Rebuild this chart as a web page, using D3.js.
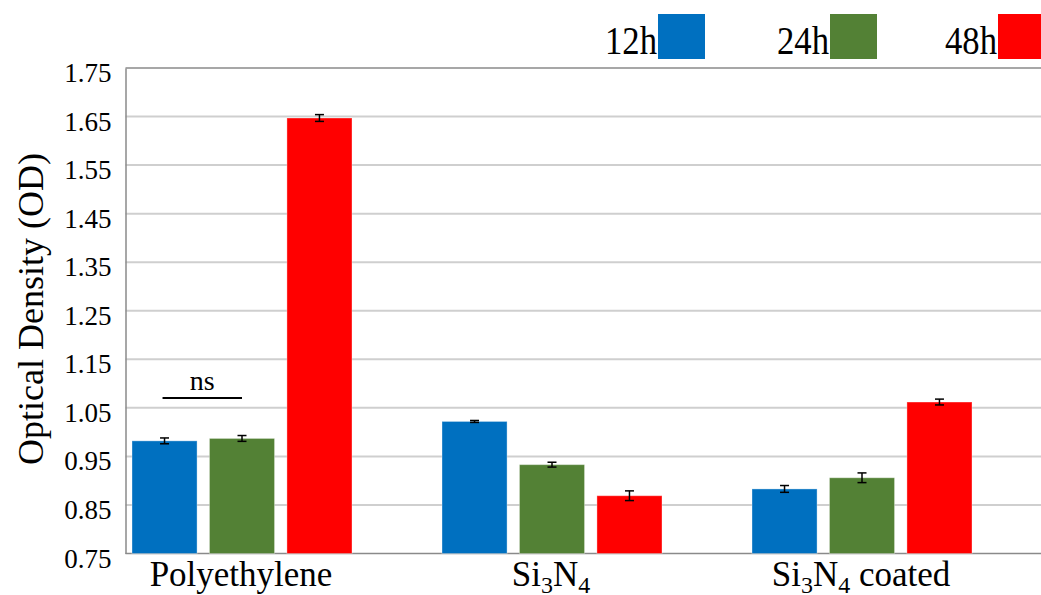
<!DOCTYPE html>
<html>
<head>
<meta charset="utf-8">
<script src="https://cdn.jsdelivr.net/npm/d3@7/dist/d3.min.js"></script>
<style>
  html, body { margin: 0; padding: 0; background: #fff; }
  svg { display: block; }
  svg text { font-family: 'Liberation Serif', 'Times New Roman', 'DejaVu Serif', serif; }
</style>
</head>
<body>
<svg id="chart" width="1041" height="595"></svg>
<script>
// Materials tested
const categories = ["Polyethylene", "Si3N4", "Si3N4 coated"];
// Incubation times
const series = ["12h", "24h", "48h"];
const colors = ["#0070C0", "#538135", "#FF0000"];
// Mean optical density per material, one array per time point
const od12 = [0.982, 1.022, 0.883];
const od24 = [0.987, 0.933, 0.906];
const od48 = [1.647, 0.869, 1.062];
// Error bar half-widths (OD)
const err12 = [0.006, 0.002, 0.007];
const err24 = [0.006, 0.005, 0.010];
const err48 = [0.007, 0.010, 0.006];
// Y-axis tick values
const yTicks = [0.75, 0.85, 0.95, 1.05, 1.15, 1.25, 1.35, 1.45, 1.55, 1.65, 1.75];

const values = [od12, od24, od48];
const errors = [err12, err24, err48];

const svg = d3.select("#chart");
const W = 1041;
const axisX = 125.5;

const y = d3.scaleLinear().domain([0.75, 1.75]).range([553.5, 68]);
const x0 = d3.scaleBand().domain(categories).range([87, 1017]).paddingInner(0).paddingOuter(0);
const x1 = d3.scaleBand().domain(series).range([45, 265]).paddingInner(0.16).paddingOuter(0);

// Horizontal gridlines
svg.append("g")
  .selectAll("line")
  .data(yTicks.filter(t => t !== 0.75 && t !== 1.75))
  .join("line")
  .attr("x1", axisX).attr("x2", W)
  .attr("y1", d => y(d)).attr("y2", d => y(d))
  .attr("stroke", "#cfcfcf").attr("stroke-width", 2);

// Plot frame: top edge and bottom axis
svg.append("line").attr("x1", axisX).attr("x2", W).attr("y1", y(1.75)).attr("y2", y(1.75))
  .attr("stroke", "#8a8a8a").attr("stroke-width", 1.5);
svg.append("line").attr("x1", axisX).attr("x2", W).attr("y1", y(0.75)).attr("y2", y(0.75))
  .attr("stroke", "#8a8a8a").attr("stroke-width", 1.5);

// Y axis
const yAxis = d3.axisLeft(y).tickValues(yTicks).tickFormat(d3.format(".2f")).tickSize(0).tickPadding(14);
const gy = svg.append("g").attr("transform", `translate(${axisX},0)`).call(yAxis)
  .attr("font-family", null).attr("font-size", null);
gy.select(".domain").attr("stroke", "#8a8a8a").attr("stroke-width", 1.5);
gy.selectAll("text")
  .style("font-family", "'Liberation Serif', 'Times New Roman', serif")
  .style("font-size", "27px").attr("fill", "#000")
  .attr("dy", "0.5em");

// Bars
const groups = svg.append("g").selectAll("g")
  .data(categories)
  .join("g")
  .attr("transform", d => `translate(${x0(d)},0)`);

groups.selectAll("rect")
  .data((c, ci) => series.map((s, si) => ({ s, si, v: values[si][ci] })))
  .join("rect")
  .attr("x", d => x1(d.s))
  .attr("width", x1.bandwidth())
  .attr("y", d => y(d.v))
  .attr("height", d => y(0.75) - y(d.v))
  .attr("fill", d => colors[d.si])
  .attr("stroke", "rgba(255,255,255,0.35)").attr("stroke-width", 1);

// Error bars
const eb = groups.selectAll("g.err")
  .data((c, ci) => series.map((s, si) => ({ s, v: values[si][ci], e: errors[si][ci] })))
  .join("g").attr("class", "err");
eb.append("line")
  .attr("x1", d => x1(d.s) + x1.bandwidth() / 2).attr("x2", d => x1(d.s) + x1.bandwidth() / 2)
  .attr("y1", d => y(d.v + d.e)).attr("y2", d => y(d.v - d.e))
  .attr("stroke", "#000").attr("stroke-width", 1.5);
eb.selectAll("line.cap")
  .data(d => [d.v + d.e, d.v - d.e].map(t => ({ s: d.s, t })))
  .join("line").attr("class", "cap")
  .attr("x1", d => x1(d.s) + x1.bandwidth() / 2 - 4.5).attr("x2", d => x1(d.s) + x1.bandwidth() / 2 + 4.5)
  .attr("y1", d => y(d.t)).attr("y2", d => y(d.t))
  .attr("stroke", "#000").attr("stroke-width", 1.5);

// Category labels; digits in chemical formulas are set as subscripts
const labelY = 586;
const subShift = 7;
categories.forEach(c => {
  const t = svg.append("text")
    .attr("x", x0(c) + x0.bandwidth() / 2 - 1)
    .attr("y", labelY)
    .attr("text-anchor", "middle")
    .style("font-size", "35px").attr("fill", "#000");
  const parts = c.match(/(\d+|\D+)/g);
  let shifted = false;
  parts.forEach(p => {
    const isSub = /^\d+$/.test(p);
    const ts = t.append("tspan").text(p);
    if (isSub) {
      ts.style("font-size", "24px");
      if (!shifted) { ts.attr("dy", subShift); shifted = true; }
    } else if (shifted) {
      ts.attr("dy", -subShift); shifted = false;
    }
  });
});

// Y-axis title
svg.append("text")
  .attr("transform", "translate(43,309) rotate(-90)")
  .attr("text-anchor", "middle")
  .style("font-size", "36px").attr("fill", "#000")
  .text("Optical Density (OD)");

// Non-significance bracket between 12h and 24h for Polyethylene
const pe = categories[0];
const bx1 = x0(pe) + x1("12h") + x1.bandwidth() / 2 - 2;
const bx2 = x0(pe) + x1("24h") + x1.bandwidth() / 2;
svg.append("line").attr("x1", bx1).attr("x2", bx2).attr("y1", 398).attr("y2", 398)
  .attr("stroke", "#000").attr("stroke-width", 2);
svg.append("text").attr("x", (bx1 + bx2) / 2).attr("y", 390)
  .attr("text-anchor", "middle").style("font-size", "28px").attr("fill", "#000").text("ns");

// Legend
const legendX = [658, 830, 998];
series.forEach((s, i) => {
  svg.append("rect").attr("x", legendX[i]).attr("y", 14).attr("width", 47).attr("height", 45)
    .attr("fill", colors[i]);
  svg.append("text").attr("x", legendX[i] - 1).attr("y", 54)
    .attr("text-anchor", "end").style("font-size", "40px")
    .attr("textLength", 52).attr("lengthAdjust", "spacingAndGlyphs")
    .attr("fill", "#000").text(s);
});
</script>
</body>
</html>
